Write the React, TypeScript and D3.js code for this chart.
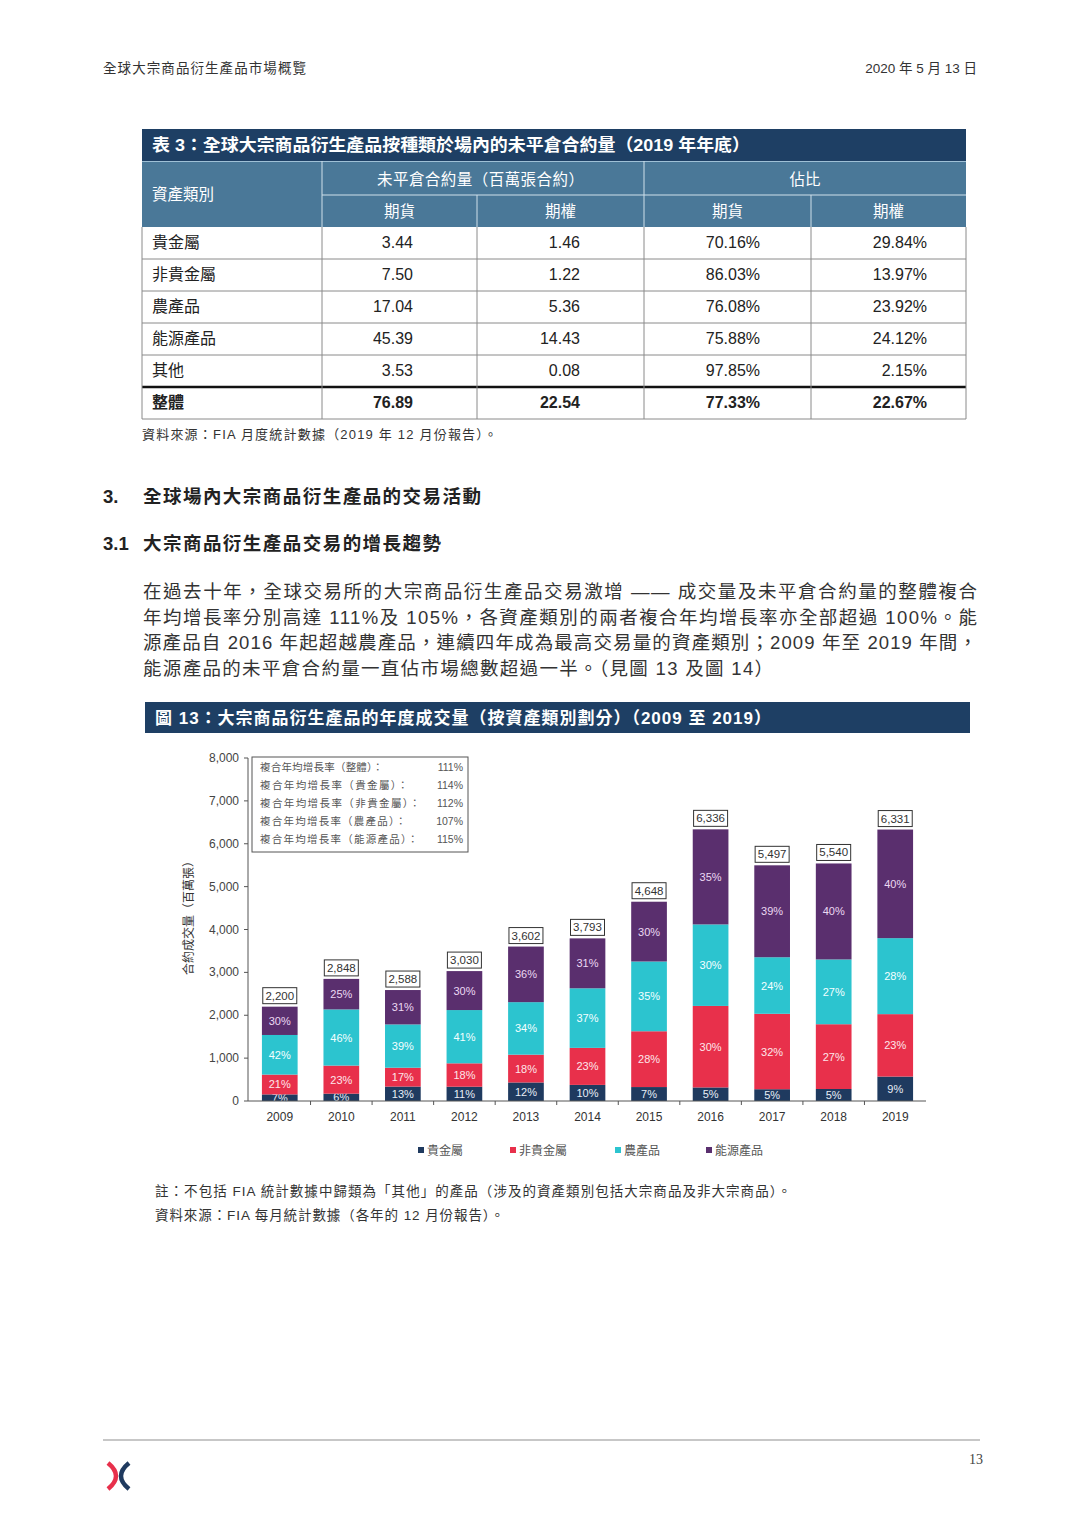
import React from 'react';
import * as d3 from 'd3';

// ---------- DATA ----------
const years = ['2009', '2010', '2011', '2012', '2013', '2014', '2015', '2016', '2017', '2018', '2019'];
const totals = [2200, 2848, 2588, 3030, 3602, 3793, 4648, 6336, 5497, 5540, 6331];
const sharePrecious = [7, 6, 13, 11, 12, 10, 7, 5, 5, 5, 9];
const shareNonPrecious = [21, 23, 17, 18, 18, 23, 28, 30, 32, 27, 23];
const shareAgri = [42, 46, 39, 41, 34, 37, 35, 30, 24, 27, 28];
const shareEnergy = [30, 25, 31, 30, 36, 31, 30, 35, 39, 40, 40];
const seriesNames = ['貴金屬', '非貴金屬', '農產品', '能源產品'];
const seriesColors = ['#1f3a5f', '#e8304b', '#2cc4cf', '#5a2f6e'];
const yTicks = [0, 1000, 2000, 3000, 4000, 5000, 6000, 7000, 8000];
const cagrLabels = ['複合年均增長率（整體）：', '複合年均增長率（貴金屬）：', '複合年均增長率（非貴金屬）：', '複合年均增長率（農產品）：', '複合年均增長率（能源產品）：'];
const cagrValues = ['111%', '114%', '112%', '107%', '115%'];

const tableAssets = ['貴金屬', '非貴金屬', '農產品', '能源產品', '其他'];
const tableFut = ['3.44', '7.50', '17.04', '45.39', '3.53'];
const tableOpt = ['1.46', '1.22', '5.36', '14.43', '0.08'];
const tableFutPct = ['70.16%', '86.03%', '76.08%', '75.88%', '97.85%'];
const tableOptPct = ['29.84%', '13.97%', '23.92%', '24.12%', '2.15%'];
const tableTotal = ['整體', '76.89', '22.54', '77.33%', '22.67%'];

const paragraph = [
  '在過去十年，全球交易所的大宗商品衍生產品交易激增 —— 成交量及未平倉合約量的整體複合',
  '年均增長率分別高達 111%及 105%，各資產類別的兩者複合年均增長率亦全部超過 100%。能',
  '源產品自 2016 年起超越農產品，連續四年成為最高交易量的資產類別；2009 年至 2019 年間，',
  '能源產品的未平倉合約量一直佔市場總數超過一半。（見圖 13 及圖 14）',
];

const FONT = "'Liberation Sans', Arial, 'Noto Sans CJK TC', sans-serif";

function Table() {
  const colX = [142, 322, 477, 644, 811, 966];
  const numRight = [0, 413, 580, 760, 927];
  const rowTop = 227;
  const rowH = 32;
  const rows = tableAssets.map((a, i) => [a, tableFut[i], tableOpt[i], tableFutPct[i], tableOptPct[i]]);
  const allRows = [...rows, tableTotal];
  const headBlue = '#4a7898';
  const navy = '#1e3f64';
  const border = '#8a8a8a';
  return (
    <g fontFamily={FONT}>
      <rect x={142} y={129} width={824} height={32} fill={navy} />
      <text x={152} y={151} fill="#fff" fontSize={17} fontWeight="bold" textLength={598} lengthAdjust="spacingAndGlyphs">表 3：全球大宗商品衍生產品按種類於場內的未平倉合約量（2019 年年底）</text>
      <rect x={142} y={161} width={824} height={66} fill={headBlue} />
      <line x1={142} x2={966} y1={161.5} y2={161.5} stroke="#9fc0d6" />
      <line x1={322} x2={322} y1={161} y2={227} stroke="#cfe0ea" />
      <line x1={644} x2={644} y1={161} y2={227} stroke="#cfe0ea" />
      <line x1={477} x2={477} y1={195} y2={227} stroke="#cfe0ea" />
      <line x1={811} x2={811} y1={195} y2={227} stroke="#cfe0ea" />
      <line x1={322} x2={966} y1={195} y2={195} stroke="#cfe0ea" />
      <text x={152} y={200} fill="#fff" fontSize={15.5}>資產類別</text>
      <text x={480.5} y={185} fill="#fff" fontSize={15.5} textAnchor="middle" textLength={207} lengthAdjust="spacing">未平倉合約量（百萬張合約）</text>
      <text x={805} y={185} fill="#fff" fontSize={15.5} textAnchor="middle">佔比</text>
      {['期貨', '期權', '期貨', '期權'].map((t, i) => (
        <text key={i} x={(colX[i + 1] + colX[i + 2]) / 2} y={217} fill="#fff" fontSize={15.5} textAnchor="middle">{t}</text>
      ))}
      {allRows.map((r, i) => {
        const y = rowTop + i * rowH;
        const bold = i === allRows.length - 1;
        return (
          <g key={i} fontWeight={bold ? 'bold' : 'normal'}>
            {r.map((c, j) => (
              <text key={j} x={j === 0 ? 152 : numRight[j]} y={y + 21} fontSize={16} fill="#222" textAnchor={j === 0 ? 'start' : 'end'}>{c}</text>
            ))}
          </g>
        );
      })}
      {d3.range(1, 6).map((i) => (
        <line key={i} x1={142} x2={966} y1={rowTop + i * rowH} y2={rowTop + i * rowH} stroke={border} />
      ))}
      <line x1={142} x2={966} y1={rowTop + 5 * rowH} y2={rowTop + 5 * rowH} stroke="#111" strokeWidth={2.5} />
      <line x1={142} x2={966} y1={rowTop + 6 * rowH} y2={rowTop + 6 * rowH} stroke={border} />
      {colX.map((x, i) => (
        <line key={i} x1={x} x2={x} y1={rowTop} y2={rowTop + 6 * rowH} stroke={border} />
      ))}
      <text x={142} y={439} fontSize={13} fill="#333" textLength={355} lengthAdjust="spacing">資料來源：FIA 月度統計數據（2019 年 12 月份報告）。</text>
    </g>
  );
}

function Chart() {
  const x = d3.scaleBand<string>().domain(years).range([249, 926]).paddingInner(0.42).paddingOuter(0.21);
  const y = d3.scaleLinear().domain([0, 8000]).range([1101, 758]);
  const shares = [sharePrecious, shareNonPrecious, shareAgri, shareEnergy];
  const rows = years.map((yr, i) => {
    const sum = shares.reduce((s, a) => s + a[i], 0);
    const o: any = { year: yr };
    seriesNames.forEach((n, k) => (o[n] = (totals[i] * shares[k][i]) / sum));
    return o;
  });
  const stacked = d3.stack<any>().keys(seriesNames)(rows);
  const step = x.step();
  const boundaries = years.map((yr) => (x(yr) as number) + x.bandwidth() / 2 + step / 2).slice(0, -1);
  const legendX = [418, 510, 615, 706];
  const labelFills = ['#e8eef7', '#fde6ea', '#f4ffff', '#ecd9f3'];
  const cagrWidths = [123, 148, 160, 146, 158];
  return (
    <g fontFamily={FONT}>
      <line x1={248} x2={248} y1={758} y2={1101} stroke="#555" />
      {yTicks.map((t) => (
        <g key={t}>
          <line x1={244} x2={248} y1={y(t)} y2={y(t)} stroke="#555" />
          <text x={239} y={y(t) + 4} fontSize={12} fill="#444" textAnchor="end">{d3.format(',')(t)}</text>
        </g>
      ))}
      <text transform="translate(193,915) rotate(-90)" fontSize={12} fill="#333" textAnchor="middle">合約成交量（百萬張）</text>
      {stacked.map((s, k) => (
        <g key={k}>
          {s.map((d, i) => {
            const x0 = x(years[i]) as number;
            const top = y(d[1]);
            const bot = y(d[0]);
            return (
              <g key={i}>
                <rect x={x0} y={top} width={x.bandwidth()} height={bot - top} fill={seriesColors[k]} />
                <text x={x0 + x.bandwidth() / 2} y={(top + bot) / 2 + 4} fontSize={11} fill={labelFills[k]} textAnchor="middle">{shares[k][i]}%</text>
              </g>
            );
          })}
        </g>
      ))}
      <line x1={248} x2={926} y1={1101} y2={1101} stroke="#555" />
      {boundaries.map((b, i) => (
        <line key={i} x1={b} x2={b} y1={1101} y2={1105} stroke="#555" />
      ))}
      {years.map((yr) => (
        <text key={yr} x={(x(yr) as number) + x.bandwidth() / 2} y={1121} fontSize={12} fill="#333" textAnchor="middle">{yr}</text>
      ))}
      {years.map((yr, i) => {
        const cx = (x(yr) as number) + x.bandwidth() / 2;
        const top = y(totals[i]);
        return (
          <g key={yr}>
            <rect x={cx - 17} y={top - 19} width={34} height={16} fill="#fff" stroke="#333" strokeWidth={1} />
            <text x={cx} y={top - 7} fontSize={11.5} fill="#333" textAnchor="middle">{d3.format(',')(totals[i])}</text>
          </g>
        );
      })}
      <rect x={252} y={757} width={216} height={95} fill="#fff" stroke="#555" />
      {cagrLabels.map((l, i) => (
        <g key={i}>
          <text x={260} y={771 + i * 18} fontSize={10.5} fill="#555" textLength={cagrWidths[i]} lengthAdjust="spacing">{l}</text>
          <text x={463} y={771 + i * 18} fontSize={10.5} fill="#555" textAnchor="end">{cagrValues[i]}</text>
        </g>
      ))}
      {seriesNames.map((n, i) => (
        <g key={n}>
          <rect x={legendX[i]} y={1147} width={6} height={6} fill={seriesColors[i]} />
          <text x={legendX[i] + 9} y={1154.5} fontSize={12} fill="#555">{n}</text>
        </g>
      ))}
    </g>
  );
}

export default function App() {
  return (
    <div lang="zh-Hant-TW" style={{ position: 'absolute', left: 0, top: 0 }}>
      <svg width={1080} height={1528} style={{ display: 'block', background: '#fff' }}>
        <rect width={1080} height={1528} fill="#fff" />
        <g fontFamily={FONT} fill="#333">
          <text x={103} y={73} fontSize={13.5} textLength={203} lengthAdjust="spacing">全球大宗商品衍生產品市場概覽</text>
          <text x={977} y={73} fontSize={13.5} textAnchor="end">2020 年 5 月 13 日</text>
        </g>
        <Table />
        <g fontFamily={FONT} fill="#222" fontWeight="bold" fontSize={18.5}>
          <text x={103} y={503}>3.</text>
          <text x={143} y={503} textLength={338} lengthAdjust="spacing">全球場內大宗商品衍生產品的交易活動</text>
          <text x={103} y={550}>3.1</text>
          <text x={143} y={550} textLength={298} lengthAdjust="spacing">大宗商品衍生產品交易的增長趨勢</text>
        </g>
        <g fontFamily={FONT} fill="#333" fontSize={18.5}>
          {paragraph.map((l, i) => (
            <text key={i} x={143} y={598 + i * 25.7} textLength={i < 3 ? 834 : 630} lengthAdjust="spacing">{l}</text>
          ))}
        </g>
        <rect x={145} y={702} width={825} height={31} fill="#1e3f64" />
        <text x={155} y={724} fontFamily={FONT} fontSize={17} fontWeight="bold" fill="#fff" textLength={616} lengthAdjust="spacing">圖 13：大宗商品衍生產品的年度成交量（按資產類別劃分）（2009 至 2019）</text>
        <Chart />
        <g fontFamily={FONT} fill="#333" fontSize={13.5}>
          <text x={155} y={1196} textLength={636} lengthAdjust="spacing">註：不包括 FIA 統計數據中歸類為「其他」的產品（涉及的資產類別包括大宗商品及非大宗商品）。</text>
          <text x={155} y={1220} textLength={349} lengthAdjust="spacing">資料來源：FIA 每月統計數據（各年的 12 月份報告）。</text>
        </g>
        <line x1={103} x2={980} y1={1440} y2={1440} stroke="#b5b5b5" strokeWidth={1.5} />
        <text x={983} y={1464} fontFamily="'Liberation Serif', 'DejaVu Serif', serif" fontSize={14} fill="#444" textAnchor="end">13</text>
        <path d="M108,1463 Q124,1476 108,1489" fill="none" stroke="#e8304b" strokeWidth={4.5} />
        <path d="M129,1463 Q113,1476 129,1489" fill="none" stroke="#1f3a5f" strokeWidth={4.5} />
      </svg>
    </div>
  );
}
